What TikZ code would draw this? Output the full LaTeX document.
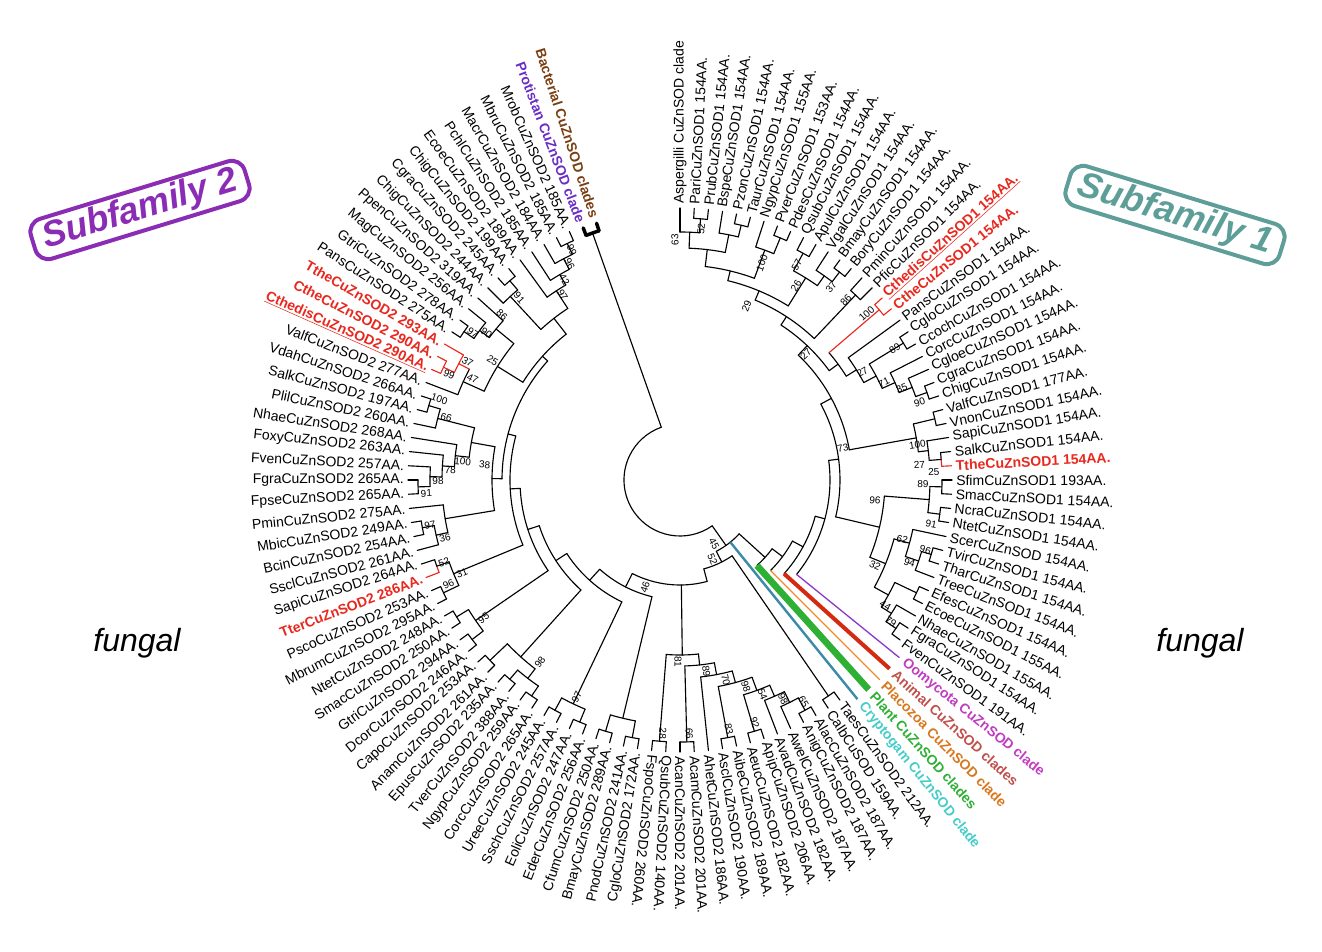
\documentclass[tikz,border=0pt]{standalone}
\usepackage{fontspec}
\setmainfont{Liberation Sans}
\definecolor{cred}{HTML}{E8281E}
\definecolor{cOom}{HTML}{C03CC0}
\definecolor{cOomL}{HTML}{8A3CC8}
\definecolor{cAni}{HTML}{C0504A}
\definecolor{cAniL}{HTML}{D42A10}
\definecolor{cPla}{HTML}{D8781E}
\definecolor{cPlaL}{HTML}{F08C28}
\definecolor{cPlant}{HTML}{2EB034}
\definecolor{cCry}{HTML}{46CCC8}
\definecolor{cCryL}{HTML}{3A8AA8}
\definecolor{cPro}{HTML}{6A2CC4}
\definecolor{cBac}{HTML}{7A3E12}
\definecolor{cSubA}{HTML}{8A2CB4}
\definecolor{cSubB}{HTML}{5E9E98}
\newcount\nn
\def\T{272}
\newcommand\tA[4][]{\pgfmathsetmacro\aA{93-3*(#3)}\pgfmathsetmacro\aB{93-3*(#4)}%
  \draw[br,#1] (\aA:#2) arc[start angle=\aA,end angle=\aB,radius=#2*0.75pt];}
\newcommand\tS[4][]{\pgfmathsetmacro\aA{93-3*(#2)}\draw[br,#1] (\aA:#3) -- (\aA:#4);}
\newcommand\Nd[6][]{\tA[#1]{#2}{#3}{#4}\tS[#1]{#3}{#2}{#5}\tS[#1]{#4}{#2}{#6}}
\newcommand\Pair[3][]{\Nd[#1]{#3}{#2}{#2+1}{\T}{\T}}
\newcommand\LbR[4][]{\pgfmathsetmacro\aA{93-3*(#2)}\global\advance\nn by 1
  \ifdim\aA pt>-97.5pt
    \node[lab,anchor=west,rotate=\aA,#1] (n\the\nn) at (\aA:#3) {#4};
  \else\pgfmathsetmacro\aR{\aA+180}%
    \node[lab,anchor=east,rotate=\aR,#1] (n\the\nn) at (\aA:#3) {#4};
  \fi}
\newcommand\Lb[3][]{\LbR[#1]{#2}{276}{#3}}
\newcommand\Bs[3]{\pgfmathsetmacro\aA{93-3*(#1)}\global\advance\nn by 1
  \ifdim\aA pt>-97.5pt
    \node[bs,rotate=\aA] (n\the\nn) at (\aA:#2) {#3};
  \else\pgfmathsetmacro\aR{\aA+180}%
    \node[bs,rotate=\aR] (n\the\nn) at (\aA:#2) {#3};
  \fi}
\begin{document}
\begin{tikzpicture}[x=0.75pt,y=0.75pt,
  br/.style={line width=0.85pt,line cap=round},
  lab/.style={font=\fontsize{10.5}{12}\selectfont,inner sep=0pt},
  bl/.style={font=\fontsize{10.5}{12}\selectfont\bfseries},
  rl/.style={bl,text=cred},
  bs/.style={font=\fontsize{7.5}{8}\selectfont,inner sep=0pt}]
\useasboundingbox (-680,-471) rectangle (642,480);
% ---------- Subfamily 1 tree ----------
\Pair{2}{262}\Nd{248}{1}{2.5}{\T}{262}
\Pair{5}{262}\Nd{250}{4}{5.5}{\T}{262}
\Nd{232}{1.75}{4.75}{248}{250}
\Pair{8}{262}\Nd{245}{7}{8.5}{\T}{262}
\Nd{215}{3.25}{7.75}{232}{245}
\Pair{10}{258}\Pair{13}{262}\Nd{250}{12}{13.5}{\T}{262}
\Nd{238}{10.5}{12.75}{258}{250}
\Nd{205}{5.5}{11.625}{215}{238}
\Pair{15}{255}
\Nd{195}{8.5625}{15.5}{205}{255}
\Pair[cred]{17}{262}
\Pair{20}{262}\Pair{24}{262}
\Nd{250}{23}{24.5}{\T}{262}
\Nd{236}{22}{23.75}{\T}{250}
\Nd{222}{20.5}{22.875}{262}{236}
\Nd{208}{19}{21.69}{\T}{222}
\tA{196}{17.5}{20.34}\tS[cred]{17.5}{196}{262}\tS{20.34}{196}{208}
\Nd{185}{12.03}{18.92}{195}{196}
\Pair{26}{262}
\tA{262}{29}{29.5}\tA[cred]{262}{29.5}{30}\tS{29}{262}{\T}\tS[cred]{30}{262}{\T}
\Nd{250}{28}{29.5}{\T}{262}
\Nd{240}{26.5}{28.75}{262}{250}
\Nd{172}{15.48}{27.63}{185}{240}
\Pair{31}{262}\Pair{33}{262}\Nd{250}{31.5}{33.5}{262}{262}
\Pair{36}{262}\Nd{252}{36.5}{38}{262}{\T}\Nd{238}{35}{37.25}{\T}{252}
\Pair{39}{262}\Pair{42}{262}\Nd{250}{41}{42.5}{\T}{262}\Nd{238}{39.5}{41.75}{262}{250}
\Nd{222}{36.13}{40.63}{238}{238}
\Nd{205}{32.5}{38.38}{250}{222}
\Nd{160}{21.55}{35.44}{172}{205}
% coloured clades
\tA{150}{28.5}{44}\tS{28.5}{150}{160}\tS[cOomL,line width=1pt]{44}{150}{282}
\tA{140}{36}{45}\tS{36}{140}{150}\tS[cAniL,line width=3pt,line cap=butt]{45}{140}{282}
\tA{128}{40.5}{46}\tS{40.5}{128}{140}\tS[cPlaL,line width=1pt]{46}{128}{282}
\tA{115}{43.25}{47}\tS{43.25}{115}{128}\tS[cPlant,line width=5pt,line cap=butt]{47}{115}{282}
\tA{80}{45.1}{52}\tS{45.1}{80}{115}\tS[cCryL,line width=1.8pt,line cap=butt]{48}{80}{282}\tS{52}{80}{92}
% root
\tA{56}{49.3}{114.5}\tS{49.3}{56}{80}\tS{114.5}{56}{262}
\tA[line width=2.6pt]{262}{114}{115}\tS[line width=2.6pt]{114}{262}{270}\tS[line width=2.6pt]{115}{262}{270}
% ---------- Subfamily 2 tree ----------
\tA{92}{49.5}{56}\tS{49.5}{92}{262}\tS{56}{92}{105}
\Pair{49}{262}
\tA{105}{56}{70}\tS{60.75}{105}{175}\tS{70}{105}{120}
\Pair{62}{262}\Pair{60}{262}\Pair{57}{262}\Pair{55}{262}\Pair{51}{262}
\Nd{248}{51.5}{53}{262}{\T}
\Nd{236}{52.25}{54}{248}{\T}
\Nd{224}{53.13}{55.5}{236}{262}
\Nd{210}{54.31}{57.5}{224}{262}
\Nd{198}{55.9}{59}{210}{\T}
\Nd{186}{57.45}{60.5}{198}{262}
\Nd{175}{58.98}{62.5}{186}{262}
% left groups
\Pair{64}{262}\Pair{66}{262}\Nd{245}{64.5}{66.5}{262}{262}
\Pair{68}{262}\Pair{70}{262}\Nd{248}{68.5}{70.5}{262}{262}
\Pair{72}{262}\Pair{74}{262}\Pair{76}{262}\Nd{250}{72.5}{74.5}{262}{262}\Nd{238}{73.5}{76.5}{250}{262}
\Pair{78}{262}\Pair{80}{262}\Nd{248}{78.5}{80.5}{262}{262}
\Pair{82}{262}
\tA[cred]{258}{84}{84.5}\tA{258}{84.5}{85}\tS[cred]{84}{258}{\T}\tS{85}{258}{\T}
\Nd{245}{82.5}{84.5}{262}{258}
\Pair{87}{262}\Nd{250}{86}{87.5}{\T}{262}\Nd{238}{86.75}{89}{250}{\T}
\Pair{90}{262}\Nd{250}{90.5}{92}{262}{\T}\Nd{238}{91.25}{93}{250}{\T}\Nd{226}{92.13}{94}{238}{\T}
\Pair{96}{262}\Nd{250}{95}{96.5}{\T}{262}\Nd{212}{93.06}{95.75}{226}{250}
\Nd{188}{87.88}{94.4}{238}{212}
\Pair[cred]{99}{262}\Nd[cred]{250}{99.5}{101}{262}{\T}
\tA{238}{98}{100.25}\tS{98}{238}{\T}\tS[cred]{100.25}{238}{250}
\Pair{102}{262}\Nd{250}{102.5}{104}{262}{\T}\Nd{238}{103.25}{105}{250}{\T}
\Nd{215}{99.13}{104.13}{238}{238}
\Pair{112}{262}\Nd{250}{111}{112.5}{\T}{262}\Nd{238}{110}{111.75}{\T}{250}\Nd{226}{109}{110.88}{\T}{238}
\Pair{107}{262}\Nd{250}{106}{107.5}{\T}{262}\Nd{205}{106.75}{109.94}{250}{226}
\Nd{185}{101.63}{108.35}{215}{205}
\Nd{120}{65.5}{75}{245}{135}
\Nd{135}{69.5}{80}{248}{148}
\Nd{148}{75}{85}{238}{160}
\Nd{160}{79.5}{90}{248}{170}
\Nd{170}{83.5}{96}{245}{178}
\Nd{178}{91.14}{104.99}{188}{185}
% ---------- leaf labels ----------
\Lb{1}{Aspergilli CuZnSOD clade}
\Lb{2}{PariCuZnSOD1 154AA.}\Lb{3}{PrubCuZnSOD1 154AA.}\Lb{4}{BspeCuZnSOD1 154AA.}
\Lb{5}{PzonCuZnSOD1 154AA.}\Lb{6}{TaurCuZnSOD1 154AA.}\Lb{7}{NgypCuZnSOD1 155AA.}
\Lb{8}{PverCuZnSOD1 153AA.}\Lb{9}{PdesCuZnSOD1 154AA.}\Lb{10}{QsubCuZnSOD1 154AA.}
\Lb{11}{ApulCuZnSOD1 154AA.}\Lb{12}{VgalCuZnSOD1 154AA.}\Lb{13}{BmayCuZnSOD1 154AA.}
\Lb{14}{BoryCuZnSOD1 154AA.}\Lb{15}{PminCuZnSOD1 154AA.}\Lb{16}{PficCuZnSOD1 154AA.}
\Lb[rl]{17}{\underline{CthedisCuZnSOD1 154AA.}}\Lb[rl]{18}{CtheCuZnSOD1 154AA.}
\Lb{19}{PansCuZnSOD1 154AA.}\Lb{20}{CgloCuZnSOD1 154AA.}\Lb{21}{CcochCuZnSOD1 154AA.}
\Lb{22}{CorcCuZnSOD1 154AA.}\Lb{23}{CgloeCuZnSOD1 154AA.}\Lb{24}{CgraCuZnSOD1 154AA.}
\Lb{25}{ChigCuZnSOD1 154AA.}\Lb{26}{ValfCuZnSOD1 177AA.}\Lb{27}{VnonCuZnSOD1 154AA.}
\Lb{28}{SapiCuZnSOD1 154AA.}\Lb{29}{SalkCuZnSOD1 154AA.}\Lb[rl]{30}{TtheCuZnSOD1 154AA.}
\Lb{31}{SfimCuZnSOD1 193AA.}\Lb{32}{SmacCuZnSOD1 154AA.}\Lb{33}{NcraCuZnSOD1 154AA.}
\Lb{34}{NtetCuZnSOD1 154AA.}\Lb{35}{ScerCuZnSOD 154AA.}\Lb{36}{TvirCuZnSOD1 154AA.}
\Lb{37}{TharCuZnSOD1 154AA.}\Lb{38}{TreeCuZnSOD1 154AA.}\Lb{39}{EfesCuZnSOD1 154AA.}
\Lb{40}{EcoeCuZnSOD1 155AA.}\Lb{41}{NhaeCuZnSOD1 155AA.}\Lb{42}{FgraCuZnSOD1 154AA.}
\Lb{43}{FvenCuZnSOD1 191AA.}
\LbR[bl,text=cOom]{44}{288}{Oomycota CuZnSOD clade}
\LbR[bl,text=cAni]{45}{288}{Animal CuZnSOD clades}
\LbR[bl,text=cPla]{46}{288}{Placozoa CuZnSOD clade}
\LbR[bl,text=cPlant]{47}{288}{Plant CuZnSOD clades}
\LbR[bl,text=cCry]{48}{288}{Cryptogam CuZnSOD clade}
\Lb{49}{TaesCuZnSOD2 212AA.}\Lb{50}{CalbCuSOD 159AA.}\Lb{51}{AlacCuZnSOD2 187AA.}
\Lb{52}{AnigCuZnSOD2 187AA.}\Lb{53}{AwelCuZnSOD2 187AA.}\Lb{54}{AvadCuZnSOD2 182AA.}
\Lb{55}{ApipCuZnSOD2 206AA.}\Lb{56}{AeucCuZnSOD2 182AA.}\Lb{57}{AibeCuZnSOD2 189AA.}
\Lb{58}{AsclCuZnSOD2 190AA.}\Lb{59}{AhetCuZnSOD2 186AA.}\Lb{60}{AcamCuZnSOD2 201AA.}
\Lb{61}{AcanCuZnSOD2 201AA.}\Lb{62}{QsubCuZnSOD2 140AA.}\Lb{63}{FspoCuZnSOD2 260AA.}
\Lb{64}{CgloCuZnSOD2 172AA.}\Lb{65}{PnodCuZnSOD2 241AA.}\Lb{66}{BmayCuZnSOD2 289AA.}
\Lb{67}{CfumCuZnSOD2 250AA.}\Lb{68}{EderCuZnSOD2 256AA.}\Lb{69}{EoliCuZnSOD2 247AA.}
\Lb{70}{SschCuZnSOD2 257AA.}\Lb{71}{UreeCuZnSOD2 245AA.}\Lb{72}{CorcCuZnSOD2 265AA.}
\Lb{73}{NgypCuZnSOD2 259AA.}\Lb{74}{TverCuZnSOD2 388AA.}\Lb{75}{EpusCuZnSOD2 235AA.}
\Lb{76}{AnamCuZnSOD2 261AA.}\Lb{77}{CapoCuZnSOD2 253AA.}\Lb{78}{DcorCuZnSOD2 246AA.}
\Lb{79}{GtriCuZnSOD2 294AA.}\Lb{80}{SmacCuZnSOD2 250AA.}\Lb{81}{NtetCuZnSOD2 248AA.}
\Lb{82}{MbrumCuZnSOD2 295AA.}\Lb{83}{PscoCuZnSOD2 253AA.}\Lb[rl]{84}{TterCuZnSOD2 286AA.}
\Lb{85}{SapiCuZnSOD2 264AA.}\Lb{86}{SsclCuZnSOD2 261AA.}\Lb{87}{BcinCuZnSOD2 254AA.}
\Lb{88}{MbicCuZnSOD2 249AA.}\Lb{89}{PminCuZnSOD2 275AA.}\Lb{90}{FpseCuZnSOD2 265AA.}
\Lb{91}{FgraCuZnSOD2 265AA.}\Lb{92}{FvenCuZnSOD2 257AA.}\Lb{93}{FoxyCuZnSOD2 263AA.}
\Lb{94}{NhaeCuZnSOD2 268AA.}\Lb{95}{PlilCuZnSOD2 260AA.}\Lb{96}{SalkCuZnSOD2 197AA.}
\Lb{97}{VdahCuZnSOD2 266AA.}\Lb{98}{ValfCuZnSOD2 277AA.}
\Lb[rl]{99}{\underline{CthedisCuZnSOD2 290AA.}}\Lb[rl]{100}{CtheCuZnSOD2 290AA.}
\Lb[rl]{101}{TtheCuZnSOD2 293AA.}\Lb{102}{PansCuZnSOD2 275AA.}\Lb{103}{GtriCuZnSOD2 278AA.}
\Lb{104}{MagCuZnSOD2 256AA.}\Lb{105}{PpenCuZnSOD2 319AA.}\Lb{106}{ChigCuZnSOD2 244AA.}
\Lb{107}{CgraCuZnSOD2 245AA.}\Lb{108}{ChigCuZnSOD2 199AA.}\Lb{109}{EcoeCuZnSOD2 189AA.}
\Lb{110}{PchlCuZnSOD2 185AA.}\Lb{111}{MacrCuZnSOD2 184AA.}\Lb{112}{MbruCuZnSOD2 185AA.}
\Lb{113}{MrobCuZnSOD2 185AA.}
\Lb[bl,text=cPro]{114}{Protistan CuZnSOD clade}
\Lb[bl,text=cBac]{115}{Bacterial CuZnSOD clades}
% ---------- bootstrap values ----------
\Bs{0.6}{240}{63}\Bs{2.6}{252}{52}\Bs{7.9}{232}{100}\Bs{10.5}{245}{57}\Bs{11.3}{226}{26}
\Bs{13.7}{245}{37}\Bs{15.2}{245}{86}\Bs{8}{186}{29}\Bs{17.1}{250}{100}\Bs{20.5}{252}{89}
\Bs{20.8}{212}{27}\Bs{22.5}{226}{71}\Bs{23.5}{240}{35}\Bs{25}{252}{90}\Bs{28.2}{240}{100}
\Bs{29.8}{240}{27}\Bs{30.4}{254}{25}\Bs{16}{178}{27}\Bs{27.3}{166}{73}\Bs{33}{196}{96}
\Bs{31.3}{243}{89}\Bs{34.3}{255}{91}\Bs{36}{230}{62}\Bs{36.3}{255}{96}\Bs{37.6}{244}{94}
\Bs{38.9}{213}{32}\Bs{41.5}{241}{44}\Bs{42.3}{254}{79}
\Bs{51.6}{72}{45}\Bs{53.6}{86}{52}\Bs{67}{113}{46}
\Bs{61.2}{182}{81}\Bs{62.3}{254}{28}\Bs{60.3}{254}{66}\Bs{58.4}{193}{89}\Bs{56.7}{205}{70}
\Bs{55.1}{217}{98}\Bs{57.3}{254}{83}\Bs{55.3}{254}{92}\Bs{54}{230}{54}\Bs{52.6}{242}{98}\Bs{51.3}{254}{65}
\Bs{69.5}{240}{97}\Bs{73.5}{230}{98}\Bs{79.3}{240}{95}\Bs{83.3}{237}{31}\Bs{84.6}{250}{52}\Bs{82.9}{254}{96}
\Bs{86.4}{242}{36}\Bs{87.6}{254}{97}\Bs{90}{254}{91}\Bs{90.9}{242}{98}\Bs{91.8}{230}{78}\Bs{92.6}{218}{100}
\Bs{92.5}{196}{38}\Bs{96}{242}{66}\Bs{97.2}{254}{100}\Bs{99.2}{254}{99}\Bs{100.7}{243}{37}\Bs{99.7}{231}{47}
\Bs{101.8}{222}{25}\Bs{103.4}{243}{90}\Bs{102.8}{254}{97}\Bs{105.3}{243}{86}\Bs{107.2}{243}{91}
\Bs{110.2}{219}{97}\Bs{111}{231}{42}\Bs{112}{243}{96}\Bs{112.6}{254}{99}
% ---------- titles ----------
\node[draw=cSubA,line width=3pt,rounded corners=10pt,rotate=17,text=cSubA,
  font=\fontsize{27}{30}\selectfont\bfseries\itshape,inner xsep=8pt,inner ysep=3pt] (sf2) at (-540,270) {Subfamily 2};
\node[draw=cSubB,line width=3pt,rounded corners=10pt,rotate=-17,text=cSubB,
  font=\fontsize{27}{30}\selectfont\bfseries\itshape,inner xsep=8pt,inner ysep=3pt] (sf1) at (495,265) {Subfamily 1};
\node[font=\fontsize{24}{28}\selectfont\itshape] (fg1) at (-543,-163) {fungal};
\node[font=\fontsize{24}{28}\selectfont\itshape] (fg2) at (520,-163) {fungal};
\end{tikzpicture}
\end{document}
